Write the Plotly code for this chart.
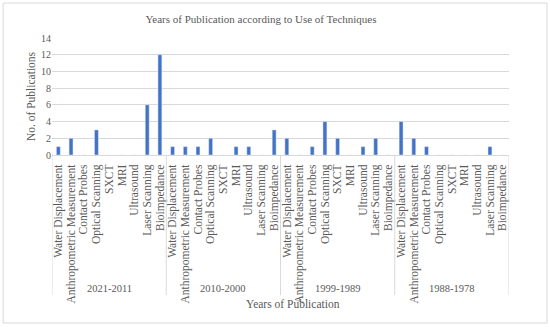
import plotly.graph_objects as go

periods = ["2021-2011", "2010-2000", "1999-1989", "1988-1978"]
techniques = ["Water Displacement", "Anthropometric Measurement", "Contact Probes",
              "Optical Scanning", "SXCT", "MRI", "Ultrasound", "Laser Scanning", "Bioimpedance"]
values_2021_2011 = [1, 2, 0, 3, 0, 0, 0, 6, 12]
values_2010_2000 = [1, 1, 1, 2, 0, 1, 1, 0, 3]
values_1999_1989 = [2, 0, 1, 4, 2, 0, 1, 2, 0]
values_1988_1978 = [4, 2, 1, 0, 0, 0, 0, 1, 0]
y_ticks = [0, 2, 4, 6, 8, 10, 12, 14]

all_vals = [values_2021_2011, values_2010_2000, values_1999_1989, values_1988_1978]
n_t = len(techniques)
x_pos, y, tick_text = [], [], []
for gi, vals in enumerate(all_vals):
    for ti, (t, v) in enumerate(zip(techniques, vals)):
        x_pos.append(gi * n_t + ti)
        y.append(v)
        tick_text.append(t)

font = "Liberation Serif"
grey = "#595959"
line_grey = "#D9D9D9"
H_PLOT = 327 - 38 - 172  # plot height in px

def py(px_below_axis):
    return -px_below_axis / H_PLOT

fig = go.Figure(go.Bar(x=x_pos, y=y, marker_color="#4472C4"))

shapes = [dict(type="rect", xref="paper", yref="paper", x0=-0.107, x1=1.0832,
               y0=-1.436, y1=1.299, line=dict(color=line_grey, width=1), layer="below")]
for gi in range(len(periods) + 1):
    xd = gi * n_t - 0.5
    shapes.append(dict(type="line", xref="x", yref="paper", x0=xd, x1=xd,
                       y0=0, y1=py(140), line=dict(color=line_grey, width=1)))

annotations = []
for gi, p in enumerate(periods):
    annotations.append(dict(text=p, xref="x", yref="paper", x=gi * n_t + (n_t - 1) / 2,
                            y=py(133), showarrow=False, xanchor="center", yanchor="middle",
                            font=dict(family=font, size=10.5, color=grey)))
annotations.append(dict(text="Years of Publication", xref="paper", yref="paper",
                        x=(293 - 52) / 457, y=py(149), showarrow=False,
                        xanchor="center", yanchor="middle",
                        font=dict(family=font, size=11.5, color=grey)))

fig.update_layout(
    width=550, height=327,
    margin=dict(l=52, r=41, t=38, b=172),
    paper_bgcolor="white", plot_bgcolor="white",
    bargap=0.69,
    showlegend=False,
    font=dict(family=font, color=grey, size=10),
    title=dict(text="Years of Publication according to Use of Techniques",
               x=(261 - 52) / 457, xref="paper", xanchor="center",
               y=1 - 19 / 327, yanchor="middle",
               font=dict(family=font, size=11, color=grey)),
    shapes=shapes,
    annotations=annotations,
)
fig.update_yaxes(range=[0, 14], tickvals=y_ticks, gridcolor=line_grey, gridwidth=1,
                 zeroline=False, showline=False, ticks="",
                 tickfont=dict(size=10, color=grey),
                 title=dict(text="No. of Publications", font=dict(size=11.5, color=grey), standoff=2))
fig.update_xaxes(range=[-0.5, len(x_pos) - 0.5], tickmode="array", tickvals=x_pos,
                 ticktext=tick_text, tickangle=-90, showline=True, linecolor=line_grey,
                 showgrid=False, zeroline=False, automargin=False, ticks="",
                 ticklabelstandoff=4,
                 tickfont=dict(size=11.5, color=grey))
fig.write_html("out.html", config={"displayModeBar": False},
               post_script="document.body.style.margin='0';document.body.style.overflow='hidden';")
